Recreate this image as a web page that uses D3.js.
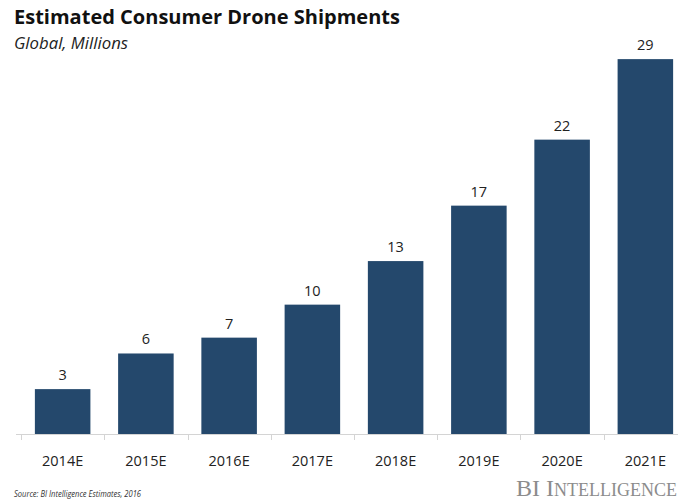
<!DOCTYPE html>
<html>
<head>
<meta charset="utf-8">
<script src="https://cdn.jsdelivr.net/npm/d3@7"></script>
<style>
  html, body { margin: 0; padding: 0; background: #fff; }
  svg { display: block; }
  .title { font-family: "Open Sans", sans-serif; font-weight: 700; font-size: 19.5px; fill: #111; }
  .subtitle { font-family: "Open Sans", sans-serif; font-style: italic; font-size: 15.5px; fill: #222; }
  .value { font-family: "Open Sans", sans-serif; font-size: 14.5px; fill: #222; }
  .cat { font-family: "Open Sans", sans-serif; font-size: 14.5px; fill: #222; }
  .source { font-family: "Open Sans", sans-serif; font-style: italic; font-size: 9px; fill: #333; }
  .brand { font-family: "Liberation Serif", serif; fill: #8c8c8c; }
</style>
</head>
<body>
<svg id="chart" width="678" height="503"></svg>
<script>
const categories = ["2014E", "2015E", "2016E", "2017E", "2018E", "2019E", "2020E", "2021E"];
// unrounded estimates; labels are the printed numbers
const values = [3.4, 6.1, 7.3, 9.8, 13.1, 17.3, 22.3, 28.4];
const labels = ["3", "6", "7", "10", "13", "17", "22", "29"];

const svg = d3.select("#chart");
const baseline = 434;

const x = d3.scaleBand()
  .domain(categories)
  .range([21, 687])
  .paddingInner(0.333)
  .paddingOuter(0.1667);

const y = d3.scaleLinear()
  .domain([0, 30])
  .range([baseline, baseline - 396]);

svg.append("text").attr("class", "title").attr("x", 14).attr("y", 24)
  .attr("textLength", 386).attr("lengthAdjust", "spacingAndGlyphs")
  .text("Estimated Consumer Drone Shipments");
svg.append("text").attr("class", "subtitle").attr("x", 14).attr("y", 49)
  .attr("textLength", 114).attr("lengthAdjust", "spacingAndGlyphs")
  .text("Global, Millions");

const gap = x.step() * x.paddingInner();

// axis line and tick marks at band boundaries
svg.append("line")
  .attr("x1", 16).attr("x2", 678)
  .attr("y1", baseline + 0.5).attr("y2", baseline + 0.5)
  .attr("stroke", "#d4d4d4");

const tickXs = categories.map((c) => x(c) - gap / 2);
svg.selectAll("line.tick")
  .data(tickXs)
  .join("line")
  .attr("class", "tick")
  .attr("x1", (d) => Math.round(d) + 0.5)
  .attr("x2", (d) => Math.round(d) + 0.5)
  .attr("y1", baseline)
  .attr("y2", baseline + 6)
  .attr("stroke", "#d4d4d4");

svg.selectAll("rect.bar")
  .data(values)
  .join("rect")
  .attr("class", "bar")
  .attr("x", (d, i) => x(categories[i]))
  .attr("y", (d) => y(d))
  .attr("width", x.bandwidth())
  .attr("height", (d) => baseline - y(d))
  .attr("fill", "#24486c");

svg.selectAll("text.value")
  .data(values)
  .join("text")
  .attr("class", "value")
  .attr("x", (d, i) => x(categories[i]) + x.bandwidth() / 2)
  .attr("y", (d) => y(d) - 9)
  .attr("text-anchor", "middle")
  .text((d, i) => labels[i]);

svg.selectAll("text.cat")
  .data(categories)
  .join("text")
  .attr("class", "cat")
  .attr("x", (d) => x(d) + x.bandwidth() / 2)
  .attr("y", 466)
  .attr("text-anchor", "middle")
  .text((d) => d);

svg.append("text").attr("class", "source").attr("x", 14).attr("y", 497)
  .attr("textLength", 127).attr("lengthAdjust", "spacingAndGlyphs")
  .text("Source: BI Intelligence Estimates, 2016");

const brand = svg.append("text").attr("class", "brand").attr("x", 516).attr("y", 496);
brand.append("tspan").attr("font-size", 24).text("BI I");
brand.append("tspan").attr("font-size", 18).text("NTELLIGENCE");
</script>
</body>
</html>
